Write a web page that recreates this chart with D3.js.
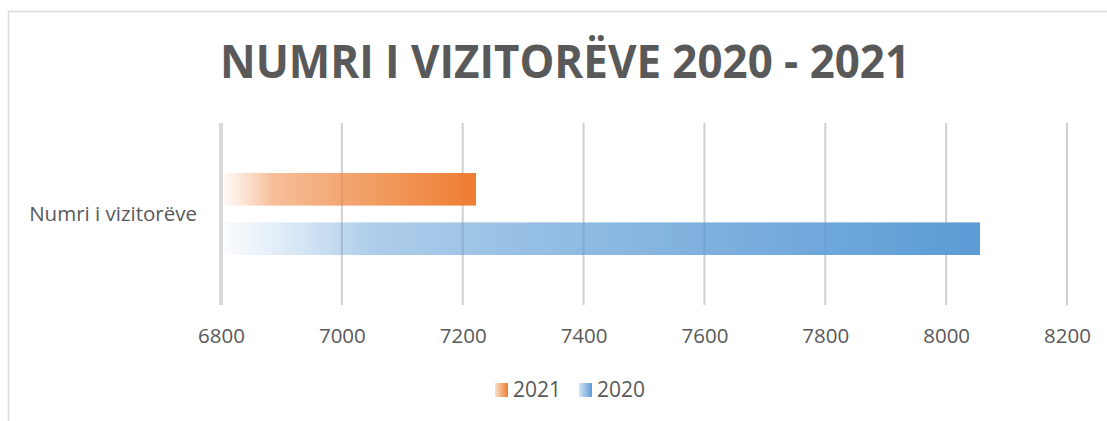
<!DOCTYPE html>
<html>
<head>
<meta charset="utf-8">
<script src="https://cdn.jsdelivr.net/npm/d3@7"></script>
<style>
    html, body { margin: 0; padding: 0; background: #fff; }
    svg { display: block; }
    text { font-family: "Open Sans", "DejaVu Sans", sans-serif; fill: #595959; }
</style>
</head>
<body>
<div id="chart"></div>
<script>
var title = 'NUMRI I VIZITORËVE 2020 - 2021';
var categories = ['Numri i vizitorëve'];
var seriesNames = ['2021', '2020'];
var seriesColors = ['#ed7d31', '#5b9bd5'];
var values2021 = [7222];
var values2020 = [8056];
var xTicks = [6800, 7000, 7200, 7400, 7600, 7800, 8000, 8200];

var width = 1107;
var height = 421;
var plot = {left: 221, right: 1067, top: 123, bottom: 305};

var svg = d3.select('#chart').append('svg')
    .attr('width', width)
    .attr('height', height);

// chart frame (runs off the right and bottom edge)
svg.append('rect')
    .attr('x', 8.5).attr('y', 11.5)
    .attr('width', 1300).attr('height', 600)
    .attr('fill', 'none')
    .attr('stroke', '#d9d9d9')
    .attr('stroke-width', 1.5);

var defs = svg.append('defs');
function addGradient(id, color, stops) {
    var g = defs.append('linearGradient')
        .attr('id', id)
        .attr('x1', '0%').attr('x2', '100%')
        .attr('y1', '0%').attr('y2', '0%');
    stops.forEach(function (s) {
        g.append('stop')
            .attr('offset', s[0])
            .attr('stop-color', color)
            .attr('stop-opacity', s[1]);
    });
}
var barStops = [[0, 0.03], [0.08, 0.2], [0.2, 0.5], [0.5, 0.7], [1, 1]];
var swatchStops = [[0, 0.25], [1, 1]];
seriesNames.forEach(function (s, i) {
    addGradient('bar-grad-' + s, seriesColors[i], barStops);
    addGradient('sw-grad-' + s, seriesColors[i], swatchStops);
});

var x = d3.scaleLinear()
    .domain([xTicks[0], xTicks[xTicks.length - 1]])
    .range([plot.left, plot.right]);

var yCat = d3.scaleBand()
    .domain(categories)
    .range([plot.top, plot.bottom]);

// gridlines
var grid = svg.append('g').attr('class', 'grid');
grid.selectAll('line')
    .data(xTicks.slice(1))
    .enter().append('line')
    .attr('x1', function (d) { return x(d); })
    .attr('x2', function (d) { return x(d); })
    .attr('y1', plot.top)
    .attr('y2', plot.bottom)
    .attr('stroke', '#d0d0d0')
    .attr('stroke-width', 2);

var seriesValues = {'2021': values2021, '2020': values2020};

categories.forEach(function (cat, ci) {
    var c = yCat(cat) + yCat.bandwidth() / 2;
    var ySer = d3.scaleBand()
        .domain(seriesNames)
        .range([c - 41, c + 41])
        .paddingInner(0.34);

    svg.append('g').selectAll('rect')
        .data(seriesNames)
        .enter().append('rect')
        .attr('x', x(xTicks[0]) + 2)
        .attr('y', function (s) { return ySer(s); })
        .attr('width', function (s) { return x(seriesValues[s][ci]) - x(xTicks[0]) - 2; })
        .attr('height', ySer.bandwidth())
        .attr('fill', function (s) { return 'url(#bar-grad-' + s + ')'; });

    svg.append('text')
        .attr('x', plot.left - 24)
        .attr('y', c)
        .attr('dy', '0.35em')
        .attr('text-anchor', 'end')
        .style('font-size', '20.5px')
        .text(cat);
});

// vertical axis line at the minimum
svg.append('line')
    .attr('x1', x(xTicks[0])).attr('x2', x(xTicks[0]))
    .attr('y1', plot.top).attr('y2', plot.bottom)
    .attr('stroke', '#d9d9d9')
    .attr('stroke-width', 4);

// x axis labels
var xAxis = d3.axisBottom(x)
    .tickValues(xTicks)
    .tickFormat(d3.format('d'))
    .tickSize(0)
    .tickPadding(0);
var gx = svg.append('g')
    .attr('transform', 'translate(0,' + (plot.bottom + 23) + ')')
    .call(xAxis);
gx.select('.domain').remove();
gx.selectAll('text')
    .attr('y', 0)
    .attr('dy', '0.71em')
    .style('font-size', '20.5px')
    .style('font-family', '"Open Sans", sans-serif')
    .attr('fill', '#595959');

// title
svg.append('text')
    .attr('x', 565)
    .attr('y', 78)
    .attr('text-anchor', 'middle')
    .attr('textLength', 690)
    .attr('lengthAdjust', 'spacingAndGlyphs')
    .style('font-size', '46px')
    .style('font-weight', 'bold')
    .text(title);

// legend
var legendItems = [
    {name: '2021', x: 495},
    {name: '2020', x: 579}
];
var lg = svg.append('g').attr('class', 'legend');
legendItems.forEach(function (d) {
    lg.append('rect')
        .attr('x', d.x)
        .attr('y', 383)
        .attr('width', 13)
        .attr('height', 14)
        .attr('fill', 'url(#sw-grad-' + d.name + ')');
    lg.append('text')
        .attr('x', d.x + 18)
        .attr('y', 397)
        .style('font-size', '21px')
        .text(d.name);
});
</script>
</body>
</html>
